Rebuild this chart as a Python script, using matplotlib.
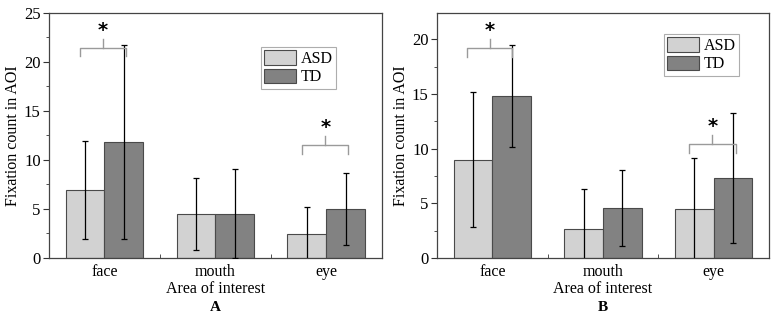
import numpy as np
import matplotlib.pyplot as plt
from matplotlib.ticker import MultipleLocator, FixedLocator, NullFormatter

plt.rcParams['font.family'] = ['Liberation Serif', 'DejaVu Serif']

categories = ['face', 'mouth', 'eye']
groups = ['ASD', 'TD']

# panel A
a_asd = [6.95, 4.5, 2.4]
a_asd_err = [5.0, 3.65, 2.8]
a_td = [11.8, 4.5, 5.0]
a_td_err = [9.9, 4.55, 3.65]

# panel B
b_asd = [9.0, 2.65, 4.5]
b_asd_err = [6.2, 3.7, 4.65]
b_td = [14.8, 4.55, 7.3]
b_td_err = [4.7, 3.5, 5.95]

# significance brackets: (x left, x right, y line, y ends, y tip, y star)
a_sig = [(0.78, 1.19, 21.4, 20.6, 22.3, 23.2), (2.785, 3.2, 11.55, 10.6, 12.4, 13.3)]
b_sig = [(0.77, 1.18, 19.2, 18.4, 20.0, 20.8), (2.78, 3.2, 10.4, 9.6, 11.2, 12.0)]

asd_color = '#d2d2d2'
td_color = '#828282'
edge = '#4a4a4a'
fs = 11.5

fig = plt.figure(figsize=(7.72, 3.15), dpi=100)
ax_a = fig.add_axes([0.0635, 0.181, 0.431, 0.778])
ax_b = fig.add_axes([0.566, 0.181, 0.430, 0.778])


def draw_panel(ax, asd, asd_err, td, td_err, sig, ymax, letter, leg_anchor):
    x = np.arange(1, len(categories) + 1)
    w = 0.35
    ax.bar(x - w / 2, asd, w, color=asd_color, edgecolor=edge, linewidth=0.8, label=groups[0], zorder=2)
    ax.bar(x + w / 2, td, w, color=td_color, edgecolor=edge, linewidth=0.8, label=groups[1], zorder=2)
    ax.errorbar(x - w / 2, asd, yerr=asd_err, fmt='none', ecolor='black', elinewidth=0.9, capsize=2, capthick=0.9, zorder=3)
    ax.errorbar(x + w / 2, td, yerr=td_err, fmt='none', ecolor='black', elinewidth=0.9, capsize=2, capthick=0.9, zorder=3)

    for x0, x1, yl, ye, yt, ys in sig:
        xm = (x0 + x1) / 2
        ax.plot([x0, x0, x1, x1], [ye, yl, yl, ye], color='#9a9a9a', lw=1.0, zorder=4)
        ax.plot([xm, xm], [yl, yt], color='#9a9a9a', lw=1.0, zorder=4)
        ax.text(xm, ys, '*', ha='center', va='center', fontsize=14, fontweight='bold',
                family='DejaVu Sans', zorder=5)

    ax.set_xlim(0.5, 3.5)
    ax.set_ylim(0, ymax)
    ax.set_xticks(x)
    ax.set_xticklabels(categories, fontsize=fs)
    ax.tick_params(axis='x', which='major', length=0, pad=4)
    ax.xaxis.set_minor_locator(FixedLocator([1.5, 2.5]))
    ax.xaxis.set_minor_formatter(NullFormatter())
    ax.tick_params(axis='x', which='minor', direction='in', length=3, color='#333333')
    ax.yaxis.set_major_locator(MultipleLocator(5))
    ax.yaxis.set_minor_locator(MultipleLocator(2.5))
    ax.tick_params(axis='y', which='major', direction='out', length=4, labelsize=fs + 0.5,
                   color='#333333', pad=2)
    ax.tick_params(axis='y', which='minor', direction='out', length=2, color='#333333')
    for s in ax.spines.values():
        s.set_color('#444444')
        s.set_linewidth(0.9)
    ax.set_xlabel('Area of interest', fontsize=fs, labelpad=1)
    ax.set_ylabel('Fixation count in AOI', fontsize=fs, labelpad=2)
    # panel letter sits just above the bottom edge of the figure
    pos = ax.get_position()
    fig.text((pos.x0 + pos.x1) / 2, 0.004, letter, ha='center', va='bottom',
             fontsize=fs - 0.5, fontweight='bold')
    leg = ax.legend(loc='upper left', bbox_to_anchor=leg_anchor, fontsize=fs, frameon=True,
                    fancybox=False, edgecolor='#999999', handlelength=2.0, handleheight=1.05,
                    handletextpad=0.3, borderpad=0.2, labelspacing=0.1, borderaxespad=0)
    leg.get_frame().set_linewidth(0.8)


draw_panel(ax_a, a_asd, a_asd_err, a_td, a_td_err, a_sig, 25, 'A', (0.637, 0.861))
draw_panel(ax_b, b_asd, b_asd_err, b_td, b_td_err, b_sig, 22.4, 'B', (0.684, 0.914))

fig.savefig('out.png', dpi=100)
